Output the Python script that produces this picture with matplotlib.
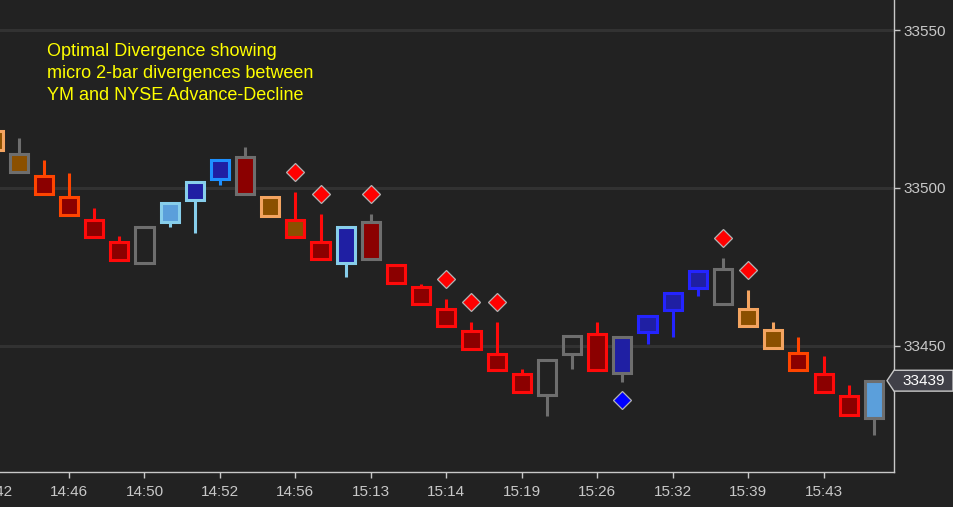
import numpy as np
import matplotlib.pyplot as plt
from matplotlib.patches import Rectangle, Polygon
from matplotlib.transforms import blended_transform_factory

plt.rcParams['font.family'] = ['Liberation Sans', 'DejaVu Sans']

# bar data (YM, 1 bar per slot)
opens = [33517.9, 33510.9, 33503.9, 33497.0, 33490.0, 33483.0, 33487.8, 33489.1, 33496.1, 33503.0,
         33509.9, 33497.0, 33490.0, 33483.0, 33476.1, 33489.1, 33475.5, 33468.5, 33461.8, 33454.6,
         33447.6, 33441.0, 33434.4, 33447.3, 33453.9, 33441.3, 33454.3, 33461.3, 33468.2, 33463.2,
         33461.8, 33454.9, 33447.9, 33441.0, 33434.0, 33427.1]
closes = [33511.9, 33505.2, 33498.0, 33491.3, 33484.4, 33477.1, 33476.1, 33495.1, 33502.0, 33509.0,
          33498.0, 33491.0, 33484.4, 33477.4, 33487.5, 33477.4, 33469.8, 33463.2, 33456.2, 33448.9,
          33442.3, 33435.3, 33445.7, 33453.0, 33442.3, 33452.7, 33459.6, 33466.6, 33473.6, 33474.5,
          33456.2, 33449.2, 33442.3, 33435.3, 33428.3, 33439.0]
highs = [33517.9, 33515.8, 33508.9, 33504.7, 33493.7, 33484.8, 33487.8, 33495.1, 33502.0, 33509.0,
         33513.0, 33497.0, 33498.7, 33491.8, 33487.5, 33491.8, 33475.5, 33469.6, 33464.9, 33457.6,
         33457.6, 33442.7, 33445.7, 33453.0, 33457.6, 33452.7, 33459.6, 33466.6, 33473.6, 33477.8,
         33467.7, 33457.6, 33452.8, 33446.8, 33437.7, 33439.0]
lows = [33511.9, 33505.2, 33498.0, 33491.3, 33484.4, 33477.1, 33476.1, 33487.7, 33485.8, 33501.0,
        33498.0, 33491.0, 33484.4, 33477.4, 33471.8, 33477.4, 33469.8, 33463.2, 33456.2, 33448.9,
        33442.3, 33435.3, 33427.8, 33442.7, 33442.3, 33438.6, 33450.6, 33452.8, 33465.8, 33463.2,
        33456.2, 33449.2, 33442.3, 33435.3, 33428.3, 33421.8]

# outline / fill category of each bar
outline = ["sandy", "gray", "ored", "ored", "red", "red", "gray", "sky", "sky", "dodger",
           "gray", "sandy", "red", "red", "sky", "gray", "red", "red", "red", "red",
           "red", "red", "gray", "gray", "red", "gray", "blue", "blue", "blue", "gray",
           "sandy", "sandy", "ored", "red", "red", "gray"]
fill = ["brown", "brown", "dred", "dred", "dred", "dred", "none", "lblue", "dblue", "dblue",
        "dred", "brown", "brown", "dred", "dblue", "dred", "dred", "dred", "dred", "dred",
        "dred", "dred", "none", "none", "dred", "dblue", "dblue", "dblue", "dblue", "none",
        "brown", "brown", "dred", "dred", "dred", "lblue"]

# divergence markers
bear_idx = [12, 13, 15, 18, 19, 20, 29, 30]
bear_val = [33505.1, 33498.1, 33498.1, 33471.2, 33463.9, 33463.9, 33484.2, 33474.1]
bull_idx = [25]
bull_val = [33432.9]

tick_idx = [0, 3, 6, 9, 12, 15, 18, 21, 24, 27, 30, 33]
tick_lab = ["14:42", "14:46", "14:50", "14:52", "14:56", "15:13", "15:14",
            "15:19", "15:26", "15:32", "15:39", "15:43"]

edge_col = {"sandy": "#F4A460", "gray": "#6E6E6E", "ored": "#FF4500", "red": "#FF0A0A",
            "sky": "#87CEEB", "dodger": "#1E90FF", "blue": "#2424FF"}
face_col = {"brown": "#8B5000", "dred": "#8B0000", "dblue": "#1F1FA3",
            "lblue": "#5B9FDB", "none": "none"}

bg = "#222222"
fig = plt.figure(figsize=(9.54, 5.07), dpi=100, facecolor=bg)
ax = fig.add_axes([0, 35 / 507, 894 / 954, 472 / 507], facecolor=bg)

w = 0.72
lw = 2.2
for i in range(len(opens)):
    ec = edge_col[outline[i]]
    fc = face_col[fill[i]]
    lo_b = min(opens[i], closes[i])
    hi_b = max(opens[i], closes[i])
    if highs[i] > hi_b:
        ax.plot([i, i], [hi_b, highs[i]], color=ec, lw=lw, solid_capstyle="butt", zorder=2)
    if lows[i] < lo_b:
        ax.plot([i, i], [lows[i], lo_b], color=ec, lw=lw, solid_capstyle="butt", zorder=2)
    ax.add_patch(Rectangle((i - w / 2, lo_b), w, hi_b - lo_b, facecolor=fc,
                           edgecolor=ec, lw=lw, joinstyle="miter", zorder=3))

ax.plot(bear_idx, bear_val, "D", ms=9, mfc="#FF0000", mec="#B4B4B4", mew=0.9, zorder=4, ls="none")
ax.plot(bull_idx, bull_val, "D", ms=9, mfc="#0000FF", mec="#B4B4B4", mew=0.9, zorder=4, ls="none")

ax.set_yticks([33450, 33500, 33550])
ax.yaxis.tick_right()
ax.grid(axis="y", color="#323232", lw=2.2)
ax.set_axisbelow(True)
ax.set_xticks(tick_idx)
ax.set_xticklabels(tick_lab)
ax.tick_params(colors="#C8C8C8", labelcolor="#C8C8C8", labelsize=11, length=4, width=1)
ax.tick_params(axis="x", pad=5)
ax.tick_params(axis="y", pad=3)
for s in ["left", "top"]:
    ax.spines[s].set_visible(False)
for s in ["right", "bottom"]:
    ax.spines[s].set_color("#C8C8C8")
    ax.spines[s].set_linewidth(1)

# limits after the ticks, otherwise set_xticks widens them
ax.set_xlim(0.256, 35.8)
ax.set_ylim(33410.1, 33559.5)

# first label falls left of the view, draw it by hand so it is cut at the edge
trx = blended_transform_factory(ax.transData, ax.transAxes)
ax.text(tick_idx[0], -0.043, tick_lab[0], transform=trx, ha="center", va="center",
        color="#C8C8C8", fontsize=11, clip_on=False)

ax.text(47 / 894, 1 - 43 / 472, "Optimal Divergence showing\nmicro 2-bar divergences between\nYM and NYSE Advance-Decline",
        transform=ax.transAxes, color="#FFFF00", fontsize=13, va="top", ha="left", linespacing=1.4)

# last price tag
last = closes[-1]
trt = blended_transform_factory(ax.transAxes, ax.transData)
hh = 3.3
tag = Polygon([(887 / 894, last), (1, last + hh), (953 / 894, last + hh),
               (953 / 894, last - hh), (1, last - hh)], closed=True, transform=trt,
              facecolor="#404048", edgecolor="#C8C8C8", lw=1, clip_on=False, zorder=5)
ax.add_patch(tag)
ax.text(924 / 894, last, f"{round(last)}", transform=trt, ha="center", va="center",
        color="white", fontsize=11, clip_on=False, zorder=6)

fig.savefig("out.png", dpi=100, facecolor=bg)
